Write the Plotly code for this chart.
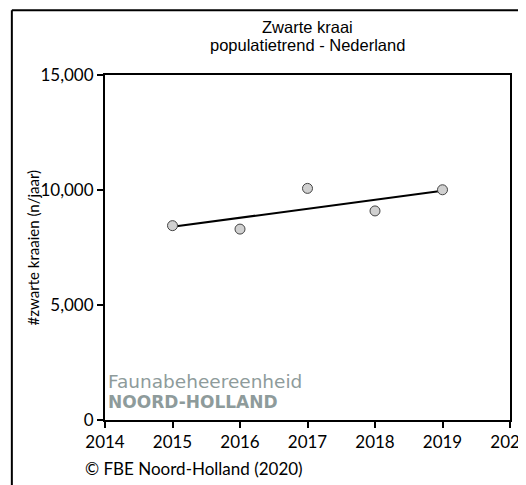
import numpy as np
import plotly.graph_objects as go

# Population counts
years = [2015, 2016, 2017, 2018, 2019]
counts = [8450, 8300, 10070, 9090, 10010]

# Linear trend through the counts
slope, intercept = np.polyfit(years, counts, 1)
trend_x = [years[0], years[-1]]
trend_y = [slope * x + intercept for x in trend_x]

y_ticks = [0, 5000, 10000, 15000]
x_ticks = [2014, 2015, 2016, 2017, 2018, 2019, 2020]

fig = go.Figure()

fig.add_trace(
    go.Scatter(
        x=trend_x,
        y=trend_y,
        mode="lines",
        line=dict(color="black", width=2),
        showlegend=False,
    )
)
fig.add_trace(
    go.Scatter(
        x=years,
        y=counts,
        mode="markers",
        marker=dict(size=10, color="#d0d0d0", line=dict(color="#444444", width=1)),
        showlegend=False,
    )
)

label_font = dict(family="Lato, Open Sans, sans-serif", size=17, color="black")

# page body has an 8px margin, so the figure is a bit smaller than the window
fig.update_layout(
    width=518,
    height=477,
    margin=dict(l=97, r=16, t=67, b=65),
    paper_bgcolor="white",
    plot_bgcolor="white",
    showlegend=False,
    xaxis=dict(
        range=[2014, 2020],
        tickvals=x_ticks,
        ticks="outside",
        ticklen=6,
        tickwidth=2,
        tickcolor="black",
        showline=True,
        linecolor="black",
        linewidth=2,
        mirror=True,
        showgrid=False,
        zeroline=False,
        tickfont=label_font,
        automargin=False,
        ticklabeloverflow="allow",
    ),
    yaxis=dict(
        range=[0, 15000],
        tickvals=y_ticks,
        tickformat=",",
        ticks="outside",
        ticklen=6,
        tickwidth=2,
        tickcolor="black",
        showline=True,
        linecolor="black",
        linewidth=2,
        mirror=True,
        showgrid=False,
        zeroline=False,
        tickfont=label_font,
        automargin=False,
    ),
)

# Y axis title
fig.add_annotation(
    text="#zwarte kraaien (n/jaar)",
    xref="paper", yref="paper",
    x=-0.178, y=0.5,
    xanchor="center", yanchor="middle",
    textangle=-90,
    showarrow=False,
    font=dict(family="Lato, Open Sans, sans-serif", size=15, color="black"),
)

# Title, two lines
title_font = dict(family="Liberation Sans, Arial", size=16.5, color="black")
fig.add_annotation(
    text="Zwarte kraai",
    xref="paper", yref="paper",
    x=0.5, y=1.139,
    xanchor="center", yanchor="middle",
    showarrow=False,
    font=title_font,
)
fig.add_annotation(
    text="populatietrend - Nederland",
    xref="paper", yref="paper",
    x=0.5, y=1.087,
    xanchor="center", yanchor="middle",
    showarrow=False,
    font=title_font,
)

# Logo text
fig.add_annotation(
    text="Faunabeheereenheid",
    xref="paper", yref="paper",
    x=0.005, y=0.112,
    xanchor="left", yanchor="middle",
    showarrow=False,
    borderpad=0,
    font=dict(family="DejaVu Sans", size=18.5, color="#8e9b9b"),
)
fig.add_annotation(
    text="<b>NOORD-HOLLAND</b>",
    xref="paper", yref="paper",
    x=0.005, y=0.052,
    xanchor="left", yanchor="middle",
    showarrow=False,
    borderpad=0,
    font=dict(family="DejaVu Sans", size=17, color="#8e9b9b"),
)

# Copyright
fig.add_annotation(
    text="© FBE Noord-Holland (2020)",
    xref="paper", yref="paper",
    x=-0.055, y=-0.14,
    xanchor="left", yanchor="middle",
    showarrow=False,
    font=label_font,
)

# Outer frame (left and top edges visible)
fig.add_shape(type="line", xref="paper", yref="paper",
              x0=-0.23, x1=-0.23, y0=-0.3, y1=1.188,
              line=dict(color="black", width=2))
fig.add_shape(type="line", xref="paper", yref="paper",
              x0=-0.23, x1=1.1, y0=1.188, y1=1.188,
              line=dict(color="black", width=2))

fig.write_html("out.html")
